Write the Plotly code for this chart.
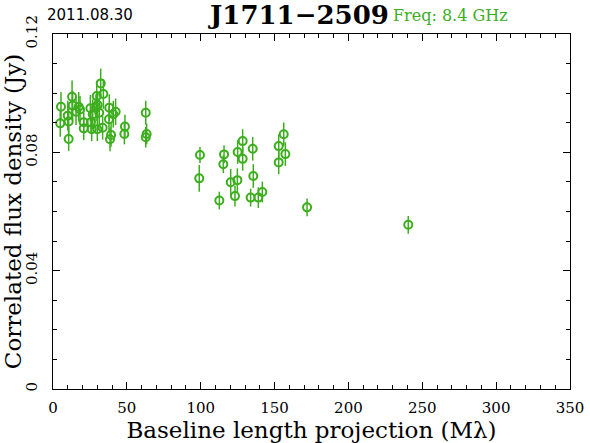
import plotly.graph_objects as go

# Baseline length projection (Mlambda)
baseline = [5.4, 4.9, 10.6, 10.0, 10.6, 12.9, 13.3, 15.6, 17.4, 18.3,
            20.8, 20.8, 25.3, 25.7, 26.9, 26.2, 29.1, 30.0, 31.3, 29.6,
            32.3, 34.1, 33.6, 38.1, 37.9, 39.3, 38.6, 40.8, 42.4, 48.7,
            48.3, 62.8, 63.4, 62.8, 30.2,
            99.5, 99.0, 115.8, 115.3, 112.6, 120.3, 125.0, 124.8, 123.2, 128.4,
            128.4, 135.2, 135.6, 133.8, 139.0, 141.7, 152.8, 152.8, 156.2, 157.3,
            172.0, 240.5]
# Correlated flux density (Jy)
flux = [0.0954, 0.0898, 0.0845, 0.0924, 0.0904, 0.0988, 0.0958, 0.0937, 0.0954, 0.0945,
        0.0902, 0.0881, 0.0949, 0.0902, 0.0929, 0.0878, 0.0951, 0.0878, 0.0934, 0.0990,
        0.1033, 0.0997, 0.0883, 0.0951, 0.0912, 0.0859, 0.0844, 0.0929, 0.0937, 0.0887,
        0.0862, 0.0934, 0.0862, 0.0851, 0.0960,
        0.0791, 0.0712, 0.0793, 0.0760, 0.0637, 0.0699, 0.0801, 0.0706, 0.0652, 0.0838,
        0.0778, 0.0812, 0.0720, 0.0647, 0.0647, 0.0666, 0.0821, 0.0766, 0.0861, 0.0794,
        0.0614, 0.0555]
# Error (Jy)
flux_err = [0.0050, 0.0045, 0.0040, 0.0050, 0.0045, 0.0055, 0.0050, 0.0045, 0.0050, 0.0045,
            0.0040, 0.0040, 0.0045, 0.0040, 0.0050, 0.0040, 0.0045, 0.0040, 0.0045, 0.0050,
            0.0050, 0.0050, 0.0040, 0.0045, 0.0045, 0.0040, 0.0040, 0.0045, 0.0045, 0.0040,
            0.0035, 0.0040, 0.0035, 0.0035, 0.0045,
            0.0027, 0.0045, 0.0030, 0.0030, 0.0030, 0.0045, 0.0040, 0.0040, 0.0035, 0.0040,
            0.0040, 0.0040, 0.0040, 0.0030, 0.0035, 0.0035, 0.0040, 0.0040, 0.0040, 0.0040,
            0.0030, 0.0030]

GREEN = "#3cae1e"
SERIF = "DejaVu Serif"

W, H = 590, 443
ML, MR, MT, MB = 53, 20, 34, 54

fig = go.Figure()
fig.add_trace(go.Scatter(
    x=baseline, y=flux, mode="markers",
    marker=dict(symbol="circle-open", size=8, color=GREEN, line=dict(width=2, color=GREEN)),
    error_y=dict(type="data", array=flux_err, visible=True, color=GREEN, thickness=1.5, width=0),
    showlegend=False,
))

axis_common = dict(showgrid=False, zeroline=False, showline=True, linecolor="black", linewidth=1,
                   mirror="ticks", ticks="inside", ticklen=7, tickcolor="black", automargin=False,
                   tickfont=dict(family=SERIF, size=15, color="black"))

fig.update_layout(
    width=W, height=H,
    margin=dict(l=ML, r=MR, t=MT, b=MB, autoexpand=False),
    paper_bgcolor="white", plot_bgcolor="white",
    xaxis=dict(range=[0, 350], dtick=50, tick0=0, ticklabelstandoff=5,
               minor=dict(dtick=10, ticks="inside", ticklen=4, tickcolor="black"),
               title=dict(text="Baseline length projection (Mλ)", font=dict(family=SERIF, size=23, color="black"), standoff=0),
               **axis_common),
    yaxis=dict(range=[0, 0.12], dtick=0.04, tick0=0, tickangle=-90, ticklabelstandoff=9,
               minor=dict(dtick=0.01, ticks="inside", ticklen=4, tickcolor="black"),
               title=dict(text="Correlated flux density (Jy)", font=dict(family=SERIF, size=23, color="black"), standoff=0),
               **axis_common),
)

pw, ph = W - ML - MR, H - MT - MB
def ann(text, px, py, font):
    fig.add_annotation(text=text, xref="paper", yref="paper",
                       x=(px - ML) / pw, y=(H - MB - py) / ph,
                       xanchor="center", yanchor="middle", showarrow=False, font=font)

ann("<b>J1711−2509</b>", 298, 15, dict(family="DejaVu Serif", size=26, color="black"))
ann("2011.08.30", 90, 15, dict(family="DejaVu Sans", size=15, color="black"))
ann("Freq: 8.4 GHz", 450, 15, dict(family=SERIF, size=16, color=GREEN))

fig.write_html("out.html", config={"displayModeBar": False},
               post_script="document.body.style.margin='0';document.documentElement.style.overflow='hidden';")
